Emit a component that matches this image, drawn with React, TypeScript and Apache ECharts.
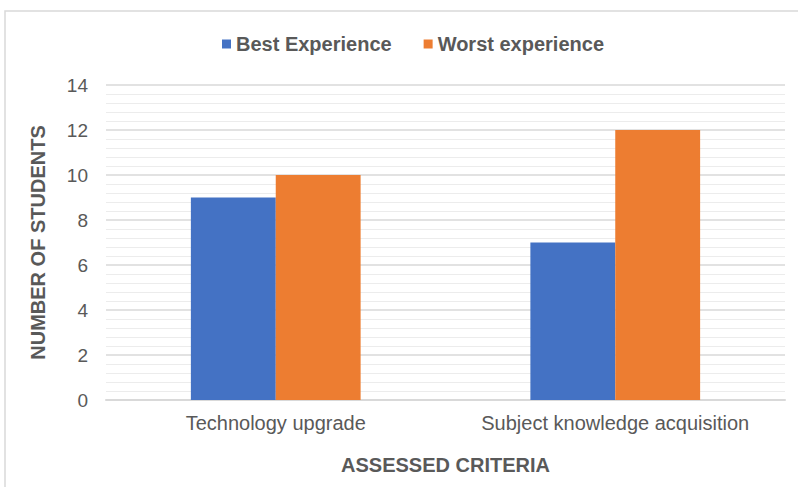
import React, { useEffect, useRef } from "react";
import * as echarts from "echarts";

const categories = ["Technology upgrade", "Subject knowledge acquisition"];
const bestExperience = [9, 7];
const worstExperience = [10, 12];
const seriesNames = ["Best Experience", "Worst experience"];
const yTitle = "NUMBER OF STUDENTS";
const xTitle = "ASSESSED CRITERIA";

export default function App() {
  const ref = useRef<HTMLDivElement>(null);
  useEffect(() => {
    if (!ref.current) return;
    const chart = echarts.init(ref.current, null, { renderer: "svg" });
    const font = "'Liberation Sans', Arial, sans-serif";
    chart.setOption({
      animation: false,
      backgroundColor: "#ffffff",
      textStyle: { fontFamily: font },
      graphic: [
        {
          type: "rect",
          shape: { x: 5, y: 11, width: 900, height: 600 },
          style: { fill: "none", stroke: "#d9d9d9", lineWidth: 1.5 },
          silent: true,
        },
      ],
      legend: {
        top: 29,
        left: 217,
        itemWidth: 9,
        itemHeight: 9,
        itemGap: 32,
        icon: "rect",
        textStyle: { fontFamily: font, fontSize: 20, fontWeight: "bold", color: "#595959" },
        data: seriesNames,
      },
      grid: { left: 106, right: 13, top: 85, bottom: 87 },
      xAxis: {
        type: "category",
        data: categories,
        axisLine: { show: true, lineStyle: { color: "#d9d9d9", width: 2 } },
        axisTick: { show: false },
        axisLabel: { color: "#595959", fontSize: 20, margin: 13, fontFamily: font, interval: 0 },
        name: xTitle,
        nameLocation: "middle",
        nameGap: 55,
        nameTextStyle: { color: "#595959", fontSize: 20, fontWeight: "bold", fontFamily: font },
      },
      yAxis: {
        type: "value",
        min: 0,
        max: 14,
        interval: 2,
        axisLine: { show: false },
        axisTick: { show: false },
        axisLabel: { color: "#595959", fontSize: 19, margin: 18, fontFamily: font },
        splitLine: { show: true, lineStyle: { color: "#d9d9d9", width: 1.5 } },
        minorTick: { show: false, splitNumber: 5 },
        minorSplitLine: { show: true, lineStyle: { color: "#ececec", width: 1 } },
        name: yTitle,
        nameLocation: "middle",
        nameGap: 58,
        nameTextStyle: { color: "#595959", fontSize: 20, fontWeight: "bold", fontFamily: font },
      },
      series: [
        {
          name: seriesNames[0],
          type: "bar",
          data: bestExperience,
          itemStyle: { color: "#4472C4" },
          barGap: "0%",
          barCategoryGap: "50%",
        },
        {
          name: seriesNames[1],
          type: "bar",
          data: worstExperience,
          itemStyle: { color: "#ED7D31" },
          barGap: "0%",
          barCategoryGap: "50%",
        },
      ],
    });
    return () => chart.dispose();
  }, []);
  return (
    <div
      ref={ref}
      style={{ position: "fixed", left: 0, top: 0, width: 798, height: 487 }}
    />
  );
}
